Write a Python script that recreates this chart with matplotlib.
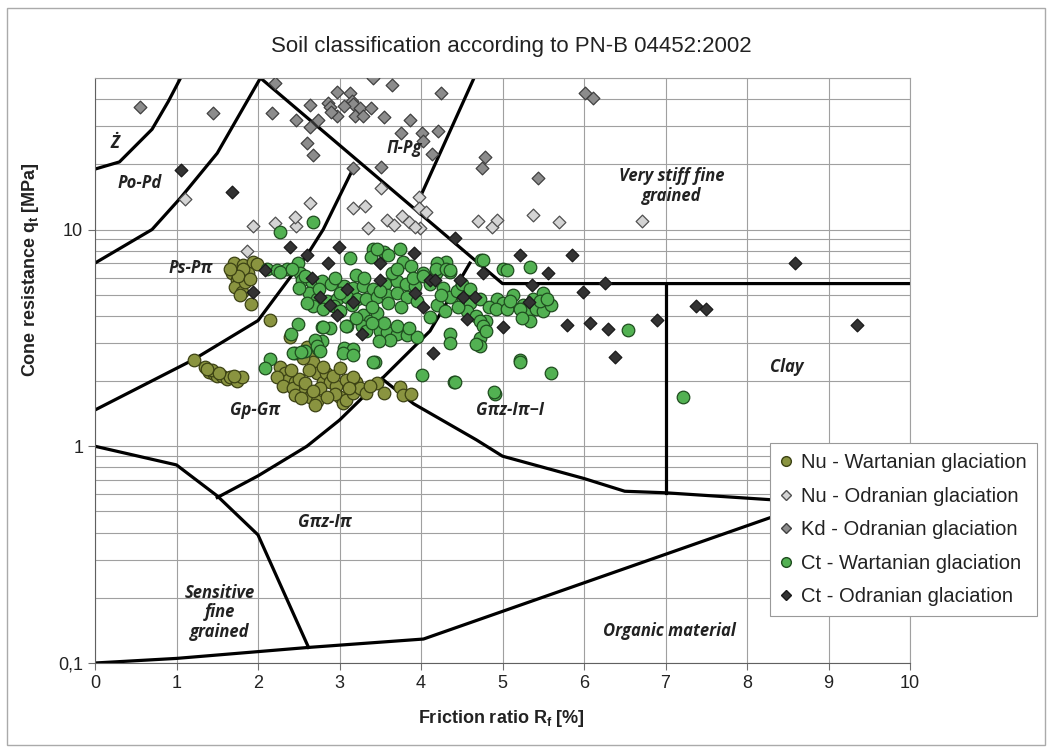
import matplotlib
matplotlib.use("Agg")
import matplotlib.pyplot as plt
from matplotlib.ticker import LogLocator, NullFormatter
from matplotlib.patches import Rectangle
from matplotlib.lines import Line2D

# ---------------- data ----------------
# Nu - Wartanian glaciation (olive circles)
nu_w_x = [1.70, 1.82, 1.94, 1.99, 1.68, 1.74, 1.72, 1.80, 1.84, 1.88, 1.82, 1.92, 2.15, 2.39, 1.76, 1.90, 1.66, 1.78,
          1.21, 1.35, 1.40, 1.46, 1.50, 1.56, 1.62, 1.66, 1.74, 1.80, 1.43, 1.52, 1.70, 1.38,
          2.27, 2.33, 2.37, 2.45, 2.53, 2.64, 2.72, 2.60, 2.64, 2.68, 2.72, 2.80, 2.84, 2.88, 2.96, 3.00,
          3.04, 3.08, 3.16, 3.20, 3.25, 3.33, 3.46, 3.54, 3.74, 3.78, 3.88, 2.23, 2.31, 2.43, 2.45, 2.53,
          2.76, 2.92, 3.08, 3.16, 2.80, 2.50, 2.58, 2.68, 2.62, 2.40, 2.95, 3.12, 3.38, 2.70, 2.85, 3.00, 2.55]
nu_w_y = [6.98, 6.85, 7.10, 6.90, 6.27, 5.83, 5.43, 5.16, 5.70, 6.30, 6.60, 4.55, 3.82, 3.20, 6.10, 5.90, 6.60, 5.00,
          2.49, 2.32, 2.20, 2.16, 2.10, 2.12, 2.05, 2.09, 2.00, 2.09, 2.25, 2.18, 2.12, 2.28,
          2.32, 2.17, 2.02, 1.97, 1.85, 1.69, 1.62, 2.87, 2.66, 2.44, 2.17, 1.97, 2.17, 1.97, 1.90, 1.69,
          1.58, 1.64, 1.77, 1.97, 1.85, 1.77, 1.95, 1.77, 1.87, 1.73, 1.75, 2.09, 1.90, 1.85, 1.72, 1.67,
          1.85, 2.10, 2.02, 2.09, 2.32, 2.05, 1.95, 1.80, 2.25, 2.25, 1.75, 1.85, 1.90, 1.55, 1.68, 2.30, 2.55]

# Nu - Odranian glaciation (light grey diamonds)
nu_o_x = [1.10, 1.94, 2.21, 2.47, 2.45, 2.64, 3.17, 3.31, 3.35, 3.51, 3.58, 3.67, 3.77, 3.85, 3.97, 3.97,
          4.06, 3.99, 4.70, 4.87, 4.93, 5.38, 5.69, 6.71, 1.86, 3.93]
nu_o_y = [13.9, 10.4, 10.7, 10.4, 11.4, 13.2, 12.5, 12.9, 10.2, 15.5, 11.1, 10.5, 11.6, 10.8, 14.1, 12.5,
          12.1, 10.2, 11.0, 10.3, 11.1, 11.7, 10.8, 11.0, 8.0, 10.3]

# Kd - Odranian glaciation (grey diamonds)
kd_o_x = [0.55, 1.45, 2.17, 2.21, 2.47, 2.64, 2.64, 2.74, 2.86, 2.88, 2.97, 2.97, 3.13, 3.15, 3.17, 3.25,
          3.19, 3.29, 3.39, 3.41, 3.54, 3.64, 3.86, 3.76, 4.01, 4.03, 4.13, 4.21, 4.25, 2.60, 2.68, 3.51,
          3.17, 4.79, 4.75, 5.44, 6.01, 6.11, 2.90, 3.05]
kd_o_y = [36.8, 34.3, 34.3, 47.3, 32.0, 37.6, 29.7, 32.1, 38.3, 36.8, 43.3, 33.3, 42.5, 39.3, 37.8, 36.2,
          33.5, 33.5, 36.2, 49.9, 32.9, 46.5, 32.1, 27.8, 27.8, 25.7, 22.4, 28.5, 42.5, 25.0, 22.0, 19.5,
          19.2, 21.6, 19.2, 17.2, 42.5, 40.3, 35.0, 37.0]

# Ct - Wartanian glaciation (green circles)
ct_w_x = [2.27, 2.68,
          2.11, 2.23, 2.35, 2.49, 2.52, 2.27, 2.42,
          3.13, 3.41, 3.54, 3.74, 3.39, 3.78, 3.88, 4.23, 4.31, 4.36, 4.74, 4.19, 4.03, 3.46, 3.60, 4.20,
          2.54, 2.66, 2.78, 2.90, 3.05, 3.16, 3.29, 3.41, 3.56, 3.71, 3.81, 3.93, 2.62, 2.72, 2.85, 2.97,
          3.09, 3.21, 3.33, 3.46, 3.58, 3.71, 3.83, 2.68, 2.80, 2.93, 3.01, 3.29, 3.37, 3.46, 3.27, 3.33,
          3.50, 3.58, 3.71, 3.83, 3.95, 3.62, 3.48, 3.09, 2.78, 2.88, 2.49, 2.41, 3.05, 3.17, 3.44, 2.58,
          2.74, 2.78, 2.70, 2.15, 2.08, 2.45,
          2.58, 2.95, 3.20, 3.65, 3.90, 2.75, 3.00, 3.50, 3.95, 3.15, 3.40, 3.60, 3.75, 3.55, 3.70, 3.85,
          3.40, 3.20, 2.60, 2.50, 3.30, 3.70,
          4.11, 4.19, 4.31, 4.36, 4.03, 4.11, 4.27, 4.36, 4.44, 4.52, 4.60, 4.56, 4.72, 4.68, 4.80, 4.72,
          4.36, 4.72, 4.01, 4.40, 4.91, 5.21, 4.93, 5.01, 5.13, 5.25, 5.38, 5.46, 5.33, 5.50, 5.01, 5.34,
          4.76, 5.05, 4.84, 4.92, 5.05, 5.09, 5.21, 5.41, 5.50, 5.46, 5.34, 5.24, 4.76, 4.80, 4.73, 5.21,
          5.60, 4.89, 6.54, 7.22, 4.36, 4.68, 4.20, 4.30, 4.45, 4.25, 4.50, 4.60, 5.60, 5.55,
          2.43, 2.53, 2.72, 2.76, 3.04, 3.17, 3.41, 2.80, 3.08, 4.42]
ct_w_y = [9.75, 10.8,
          6.60, 6.50, 6.60, 6.98, 6.27, 6.37, 6.60,
          7.37, 8.17, 7.90, 8.17, 7.50, 7.10, 6.80, 6.85, 7.10, 6.40, 7.20, 6.27, 6.27, 8.10, 7.60, 7.00,
          5.84, 5.70, 5.80, 5.60, 5.50, 5.40, 5.50, 5.30, 5.60, 5.80, 5.60, 5.50, 5.07, 4.80, 4.70, 4.80,
          4.90, 4.80, 4.80, 4.90, 5.00, 5.07, 4.90, 4.45, 4.30, 4.45, 4.20, 4.03, 3.80, 4.10, 3.60, 3.40,
          3.40, 3.35, 3.30, 3.25, 3.20, 3.10, 3.05, 3.60, 3.55, 3.50, 3.68, 3.30, 2.85, 2.80, 2.45, 2.75,
          2.80, 3.05, 3.10, 2.54, 2.30, 2.70,
          6.10, 6.00, 6.20, 6.30, 6.00, 5.30, 5.10, 5.20, 4.70, 4.50, 4.40, 4.60, 4.40, 3.70, 3.60, 3.50,
          3.70, 3.90, 4.60, 5.40, 6.00, 6.60,
          3.95, 6.60, 6.60, 6.50, 6.10, 5.60, 5.40, 4.90, 5.20, 4.80, 4.60, 4.20, 4.80, 4.00, 3.80, 3.80,
          3.30, 3.15, 2.13, 1.98, 1.75, 2.50, 4.80, 4.60, 5.00, 4.50, 4.80, 4.40, 4.20, 5.10, 6.60, 6.70,
          7.20, 6.50, 4.40, 4.30, 4.30, 4.70, 4.30, 4.30, 4.20, 4.70, 3.80, 3.90, 3.60, 3.40, 2.90, 2.45,
          2.18, 1.78, 3.43, 1.69, 3.00, 2.96, 4.50, 4.20, 4.40, 5.00, 5.60, 5.30, 4.50, 4.80,
          2.68, 2.72, 2.90, 2.74, 2.70, 2.65, 2.45, 3.55, 3.60, 1.97]

# Ct - Odranian glaciation (dark diamonds)
ct_o_x = [1.06, 1.68, 2.39, 2.60, 2.99, 2.86, 3.50, 3.91, 4.42, 2.09, 1.94, 2.66, 2.76, 2.88, 2.97, 3.17,
          3.50, 3.27, 3.93, 4.03, 4.11, 4.17, 4.15, 4.48, 4.52, 4.66, 4.56, 4.76, 5.01, 5.21, 5.85, 5.56,
          5.36, 5.32, 5.79, 6.07, 6.30, 5.99, 6.26, 6.38, 6.89, 7.38, 7.50, 8.59, 9.35, 3.09]
ct_o_y = [18.8, 14.9, 8.3, 7.6, 8.3, 7.0, 7.0, 7.8, 9.1, 6.5, 5.16, 5.95, 4.89, 4.48, 4.03, 4.64,
          5.84, 3.31, 5.07, 4.40, 5.84, 5.84, 2.68, 5.84, 4.89, 4.89, 3.88, 6.27, 3.55, 7.62, 7.62, 6.27,
          5.54, 4.64, 3.62, 3.69, 3.49, 5.16, 5.64, 2.58, 3.82, 4.43, 4.32, 6.98, 3.62, 5.30]

# zone boundaries (Rf [%], qt [MPa])
b_z_x, b_z_y = [0, 0.3, 0.7, 0.9, 1.05], [19, 20.5, 29, 39, 50]
b_popd_x, b_popd_y = [0, 0.7, 1.05, 1.5, 2.03], [7, 10, 14, 22.5, 50]
b_ps_x, b_ps_y = [0, 1.2, 2.0, 2.4, 2.6, 2.8, 3.17], [1.47, 2.5, 3.8, 6.05, 7.6, 10, 19.2]
b_diag_x, b_diag_y = [2.03, 5.0, 10], [50, 5.63, 5.63]
b_pg_x, b_pg_y = [3.99, 4.64], [14.1, 49]
b_gp_x, b_gp_y = [1.5, 2.0, 2.6, 3.0, 3.52, 4.11, 4.36, 4.6], [0.58, 0.73, 1.0, 1.32, 2.05, 3.4, 4.9, 7.0]
b_gi_x, b_gi_y = [3.52, 3.91, 4.68, 5.0, 6.0, 6.5, 7.0, 8.5], [2.05, 1.57, 1.07, 0.9, 0.71, 0.62, 0.61, 0.56]
b_clay_x, b_clay_y = [7, 7], [5.63, 0.61]
b_sens_x, b_sens_y = [0, 1.0, 1.5, 2.0, 2.62], [1.0, 0.82, 0.59, 0.39, 0.118]
b_org_x, b_org_y = [0, 1.0, 2.62, 4.03, 8.5], [0.1, 0.105, 0.118, 0.129, 0.5]

zone_labels = ["Ż", "Po-Pd", "Π-Pg", "Ps-Pπ", "Very stiff fine\ngrained", "Clay", "Gp-Gπ",
               "Gπz-Iπ−I", "Gπz-Iπ", "Sensitive\nfine\ngrained", "Organic material"]
zone_x = [0.25, 0.55, 3.8, 1.17, 7.08, 8.49, 1.96, 5.09, 2.82, 1.53, 7.05]
zone_y = [25, 16.4, 23.8, 6.64, 15.9, 2.32, 1.47, 1.47, 0.445, 0.171, 0.141]

# ---------------- plot ----------------
plt.rcParams['font.family'] = ['Liberation Sans', 'DejaVu Sans']

fig = plt.figure(figsize=(10.52, 7.53), dpi=100)
ax = fig.add_axes([95 / 1052, 1 - 663 / 753, 815 / 1052, 585 / 753])

ax.set_yscale('log')
ax.set_xlim(0, 10)
ax.set_ylim(0.1, 50)
ax.set_xticks(range(0, 11))
ax.set_yticks([0.1, 1, 10])
ax.set_yticklabels(['0,1', '1', '10'])
ax.yaxis.set_minor_locator(LogLocator(base=10, subs=range(2, 10)))
ax.yaxis.set_minor_formatter(NullFormatter())
ax.tick_params(axis='both', which='major', labelsize=13, length=5, color='#707070', direction='out',
               labelcolor='#222222')
ax.tick_params(axis='y', which='minor', length=0)
ax.grid(True, axis='y', which='both', color='#a0a0a0', lw=0.8)
ax.grid(True, axis='x', which='major', color='#a0a0a0', lw=0.8)
for s in ['top', 'right']:
    ax.spines[s].set_color('#a0a0a0')
for s in ['left', 'bottom']:
    ax.spines[s].set_color('#606060')

lk = dict(color='black', lw=2.3, zorder=2, solid_joinstyle='round')
for bx, by in [(b_z_x, b_z_y), (b_popd_x, b_popd_y), (b_ps_x, b_ps_y), (b_diag_x, b_diag_y),
               (b_pg_x, b_pg_y), (b_gp_x, b_gp_y), (b_gi_x, b_gi_y), (b_clay_x, b_clay_y),
               (b_sens_x, b_sens_y), (b_org_x, b_org_y)]:
    ax.plot(bx, by, **lk)

ax.scatter(nu_w_x, nu_w_y, s=82, marker='o', c='#8a9440', edgecolors='#3c4214', lw=0.9, zorder=3)
ax.scatter(nu_o_x, nu_o_y, s=42, marker='D', c='#d4d4d4', edgecolors='#505050', lw=0.9, zorder=4)
ax.scatter(kd_o_x, kd_o_y, s=42, marker='D', c='#8c8c8c', edgecolors='#404040', lw=0.9, zorder=5)
ax.scatter(ct_w_x, ct_w_y, s=82, marker='o', c='#52b152', edgecolors='#1f4d1f', lw=0.9, zorder=6)
ax.scatter(ct_o_x, ct_o_y, s=42, marker='D', c='#333333', edgecolors='#1a1a1a', lw=0.9, zorder=7)

for lab, lx, ly in zip(zone_labels, zone_x, zone_y):
    ax.text(lx, ly, lab, ha='center', va='center', fontsize=12, fontstyle='italic', fontweight='bold',
            family=['Open Sans', 'DejaVu Sans'], color='#222222', zorder=8, linespacing=1.1)

fig.text(0.486, 0.938, 'Soil classification according to PN-B 04452:2002', ha='center', va='center',
         fontsize=16, color='#222222')
fig.text(0.477, 0.046, r'Friction ratio R$_\mathregular{f}$ [%]', ha='center', va='center',
         fontsize=13, fontweight='bold', color='#222222')
fig.text(0.029, 1 - 270 / 753, r'Cone resistance q$_\mathregular{t}$ [MPa]', ha='center', va='center',
         rotation=90, fontsize=13, fontweight='bold', color='#222222')

# legend
handles = [
    Line2D([], [], ls='', marker='o', ms=7, mfc='#8a9440', mec='#3c4214'),
    Line2D([], [], ls='', marker='D', ms=5, mfc='#d4d4d4', mec='#505050'),
    Line2D([], [], ls='', marker='D', ms=5, mfc='#8c8c8c', mec='#404040'),
    Line2D([], [], ls='', marker='o', ms=7, mfc='#52b152', mec='#1f4d1f'),
    Line2D([], [], ls='', marker='D', ms=5, mfc='#333333', mec='#1a1a1a'),
]
labels = ['Nu - Wartanian glaciation', 'Nu - Odranian glaciation', 'Kd - Odranian glaciation',
          'Ct - Wartanian glaciation', 'Ct - Odranian glaciation']
leg = fig.legend(handles, labels, loc='upper left', bbox_to_anchor=(770 / 1052, 1 - 443 / 753),
                 fontsize=14.5, frameon=True, fancybox=False, edgecolor='#999999', framealpha=1,
                 handlelength=0.6, handletextpad=0.45, labelspacing=0.72, borderpad=0.5,
                 borderaxespad=0, labelcolor='#222222')
leg.get_frame().set_linewidth(0.8)
leg.set_zorder(20)

fig.patches.append(Rectangle((0.007, 0.01), 0.986, 0.98, transform=fig.transFigure,
                             fill=False, edgecolor='#aaaaaa', lw=1))

fig.savefig('out.png', dpi=100)
